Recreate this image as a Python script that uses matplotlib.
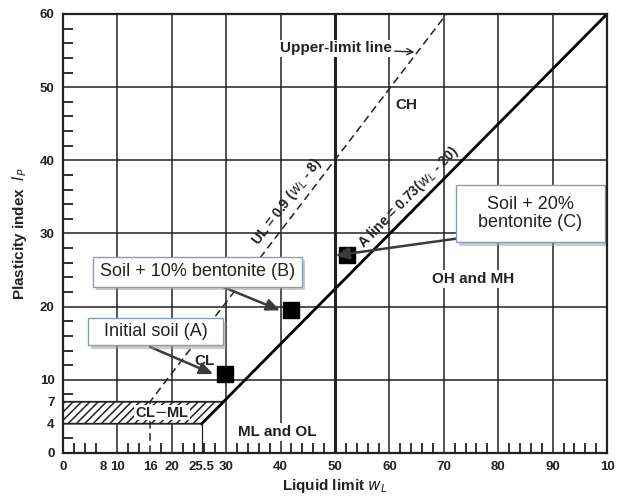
import matplotlib.pyplot as plt
import matplotlib.patheffects as pe
import matplotlib.transforms as mtransforms
from matplotlib.patches import Polygon, Rectangle
from matplotlib.ticker import MultipleLocator

plt.rcParams['hatch.linewidth'] = 1.1

# --- data ---
liquid_limit = [29.7, 42.0, 52.2]        # w_L of the three samples
plasticity_index = [10.8, 19.5, 27.0]    # I_P of the three samples
sample_names = ['Initial soil (A)', 'Soil + 10% bentonite (B)', 'Soil + 20%\nbentonite (C)']

a_line_x = [25.5, 100]
a_line_y = [4, 60]
ul_line_x = [16, 16, 70.5]
ul_line_y = [0, 7, 60]
cl_ml_x = [0, 25.5, 29.6, 0]
cl_ml_y = [4, 4, 7, 7]

grid_x = [10, 20, 30, 40, 60, 70, 80, 90]
grid_y = [10, 20, 30, 40, 50]
x_ticks = [0, 8, 10, 16, 20, 25.5, 30, 40, 50, 60, 70, 80, 90, 100]
x_tick_labels = ['0', '8', '10', '16', '20', '25.5', '30', '40', '50', '60', '70', '80', '90', '10']
y_ticks = [0, 4, 7, 10, 20, 30, 40, 50, 60]

zones = ['CH', 'OH and MH', 'CL', 'ML and OL']
zone_xy = [(63.2, 47.5), (75.4, 23.8), (26.1, 12.6), (39.3, 2.9)]

# callout boxes (x0, y0, x1, y1) and arrow tails, in data units
boxes = [(4.6, 14.7, 29.4, 18.4), (5.5, 22.7, 43.9, 26.8), (72.2, 28.8, 99.6, 36.6)]
tail_xy = [(16.0, 14.5), (29.4, 22.7), (73.3, 29.4)]

ink = '#222222'
scan_font = dict(family='Liberation Sans', weight='bold', color=ink)

fig = plt.figure(figsize=(6.21, 4.96), dpi=100)
ax = fig.add_axes([0.1014, 0.0867, 0.8761, 0.8851])
ax.set_xlim(0, 100)
ax.set_ylim(0, 60)

# grid lines
for gx in grid_x:
    ax.axvline(gx, color=ink, lw=1.1, zorder=1)
ax.axvline(50, color=ink, lw=2.2, zorder=1)
for gy in grid_y:
    ax.axhline(gy, color=ink, lw=1.1, zorder=1)
ax.plot([25.5, 25.5], [0, 4], color=ink, lw=0.9, zorder=1)

# CL-ML hatched zone
ax.add_patch(Polygon(list(zip(cl_ml_x, cl_ml_y)), closed=True, facecolor='white',
                     edgecolor=ink, hatch='////', lw=1.3, zorder=2))

# A line and upper-limit line
ax.plot(a_line_x, a_line_y, color='black', lw=2.0, zorder=3)
ax.plot(ul_line_x, ul_line_y, color=ink, lw=1.1, ls=(0, (5, 3)), zorder=3)

# samples
ax.plot(liquid_limit, plasticity_index, 's', color='black', markersize=12, zorder=5)

# zone labels
for name, (zx, zy) in zip(zones, zone_xy):
    ax.text(zx, zy, name, fontsize=11, ha='center', va='center', zorder=4,
            bbox=dict(facecolor='white', edgecolor='none', pad=1.5), **scan_font)
ax.text(18.2, 5.5, 'CL$-$ML', fontsize=10.5, ha='center', va='center', zorder=4,
        bbox=dict(facecolor='white', edgecolor='none', pad=0.5), **scan_font)

ax.annotate('Upper-limit line', xy=(64.6, 54.8), xytext=(50.2, 55.3),
            fontsize=11, ha='center', va='center', zorder=4,
            bbox=dict(facecolor='white', edgecolor='none', pad=1.0),
            arrowprops=dict(arrowstyle='->', color=ink, lw=1.0, shrinkA=1, shrinkB=0),
            **scan_font)


# text along a line, lifted a little off it on the upper-left side
def line_label(x0, y0, x1, y1, at_x, text, size):
    p0 = ax.transData.transform((x0, y0))
    p1 = ax.transData.transform((x1, y1))
    import math
    ang = math.degrees(math.atan2(p1[1] - p0[1], p1[0] - p0[0]))
    at_y = y0 + (at_x - x0) * (y1 - y0) / (x1 - x0)
    dx = -math.sin(math.radians(ang)) * 2.5
    dy = math.cos(math.radians(ang)) * 2.5
    tr = mtransforms.offset_copy(ax.transData, fig=fig, x=dx, y=dy, units='points')
    ax.text(at_x, at_y, text, fontsize=size, rotation=ang, rotation_mode='anchor',
            ha='center', va='bottom', transform=tr, zorder=4, **scan_font)


line_label(ul_line_x[1], ul_line_y[1], ul_line_x[2], ul_line_y[2], 43.0,
           'UL = 0.9 ($w_L$ - 8)', 10)
line_label(a_line_x[0], a_line_y[0], a_line_x[1], a_line_y[1], 65.1,
           'A line = 0.73($w_L$ - 20)', 10)

# callout boxes with arrows
for name, (x0, y0, x1, y1), (tx, ty), px, py in zip(sample_names, boxes, tail_xy,
                                                    liquid_limit, plasticity_index):
    ax.annotate('', xy=(px - 2.1, py), xytext=(tx, ty), zorder=6,
                arrowprops=dict(arrowstyle='-|>,head_length=0.8,head_width=0.35',
                                color='#3a3a3a', lw=1.8, shrinkA=0, shrinkB=0))
    box = Rectangle((x0, y0), x1 - x0, y1 - y0, facecolor='white',
                    edgecolor='#8a9bb5', lw=1.0, zorder=7)
    box.set_path_effects([
        pe.SimplePatchShadow(offset=(2.5, -2.5), shadow_rgbFace='#999999', alpha=0.5),
        pe.Normal()])
    ax.add_patch(box)
    ax.text((x0 + x1) / 2, (y0 + y1) / 2, name, fontsize=13, family='Liberation Sans',
            color=ink, ha='center', va='center', linespacing=1.1, zorder=8)

# axes, ticks, labels
for s in ax.spines.values():
    s.set_linewidth(1.6)
    s.set_color(ink)
    s.set_zorder(9)

ax.set_xticks(x_ticks)
ax.set_xticklabels(x_tick_labels)
ax.set_yticks(y_ticks)
ax.xaxis.set_minor_locator(MultipleLocator(2))
ax.yaxis.set_minor_locator(MultipleLocator(2))
ax.tick_params(which='major', length=0, pad=6, labelsize=9.5, labelcolor=ink)
ax.tick_params(which='minor', direction='in', length=7, width=1.3, color=ink)
for lab in ax.get_xticklabels() + ax.get_yticklabels():
    lab.set_fontfamily('Liberation Sans')
    lab.set_fontweight('bold')
ax.get_xticklabels()[1].set_horizontalalignment('right')

ax.set_xlabel('Liquid limit $w_L$', fontsize=11, labelpad=3, **scan_font)
ax.set_ylabel('Plasticity index  $I_P$', fontsize=11, labelpad=8, **scan_font)

fig.savefig('out.png', dpi=100)
